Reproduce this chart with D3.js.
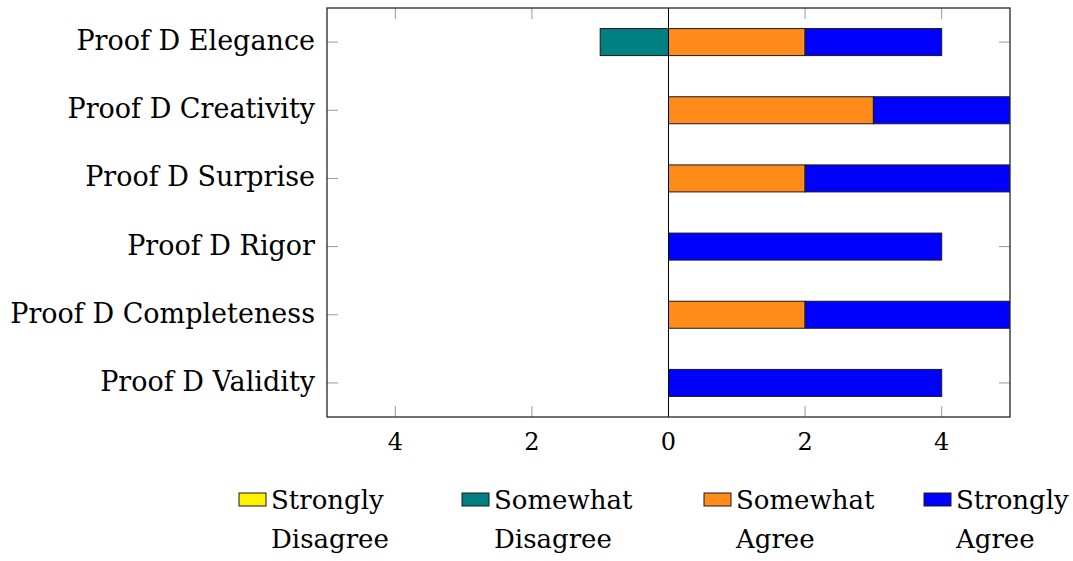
<!DOCTYPE html>
<html>
<head>
<meta charset="utf-8">
<script src="https://cdn.jsdelivr.net/npm/d3@7"></script>
<style>
  html, body { margin: 0; padding: 0; background: #fff; }
  svg text { font-family: "DejaVu Serif", serif; fill: #000; }
</style>
</head>
<body>
<div id="chart"></div>
<script>
// Datos (de arriba hacia abajo)
const categories = ['Proof D Elegance', 'Proof D Creativity', 'Proof D Surprise',
                    'Proof D Rigor', 'Proof D Completeness', 'Proof D Validity'];
const stronglyDisagree = [0, 0, 0, 0, 0, 0];
const somewhatDisagree = [1, 0, 0, 0, 0, 0];
const somewhatAgree    = [2, 3, 2, 0, 2, 0];
const stronglyAgree    = [2, 2, 3, 4, 3, 4];
const xTicks = [-4, -2, 0, 2, 4];
const legendLabels = [['Strongly', 'Disagree'], ['Somewhat', 'Disagree'],
                      ['Somewhat', 'Agree'], ['Strongly', 'Agree']];

const drawChart = () => {
    const width = 1073, height = 561;
    const plot = { left: 327, right: 1010, top: 8, bottom: 417 };

    const colors = {
        sD: '#fff200', swD: '#008080', swA: '#ff8c1a', sA: '#0000ff'
    };

    const svg = d3.select('#chart')
                  .append('svg')
                  .attr('width', width)
                  .attr('height', height);

    const x = d3.scaleLinear().domain([-5, 5]).range([plot.left, plot.right]);
    const y = d3.scaleBand().domain(categories).range([plot.top, plot.bottom]).padding(0);
    const barH = 27;

    // Tabla para d3.stack (los "disagree" en negativo)
    const table = categories.map((c, i) => ({
        cat: c,
        swD: -somewhatDisagree[i],
        sD: -stronglyDisagree[i],
        swA: somewhatAgree[i],
        sA: stronglyAgree[i]
    }));
    const series = d3.stack()
                     .keys(['swD', 'sD', 'swA', 'sA'])
                     .offset(d3.stackOffsetDiverging)(table);

    svg.append('clipPath').attr('id', 'clip')
       .append('rect')
       .attr('x', plot.left).attr('y', plot.top)
       .attr('width', plot.right - plot.left)
       .attr('height', plot.bottom - plot.top);

    // Ticks (hacia dentro, grises)
    const ticks = svg.append('g').attr('stroke', '#9a9a9a').attr('stroke-width', 1);
    xTicks.forEach(t => {
        ticks.append('line').attr('x1', x(t)).attr('x2', x(t))
             .attr('y1', plot.bottom).attr('y2', plot.bottom - 11);
        ticks.append('line').attr('x1', x(t)).attr('x2', x(t))
             .attr('y1', plot.top).attr('y2', plot.top + 11);
    });
    categories.forEach(c => {
        const cy = y(c) + y.bandwidth() / 2;
        ticks.append('line').attr('x1', plot.left).attr('x2', plot.left + 11)
             .attr('y1', cy).attr('y2', cy);
        ticks.append('line').attr('x1', plot.right).attr('x2', plot.right - 11)
             .attr('y1', cy).attr('y2', cy);
    });

    // Barras
    const bars = svg.append('g').attr('clip-path', 'url(#clip)');
    series.forEach(s => {
        bars.selectAll(null)
            .data(s.filter(d => d[1] - d[0] !== 0))
            .enter()
            .append('rect')
            .attr('x', d => x(Math.min(d[0], d[1])))
            .attr('y', d => y(d.data.cat) + (y.bandwidth() - barH) / 2)
            .attr('width', d => Math.abs(x(d[1]) - x(d[0])))
            .attr('height', barH)
            .attr('fill', colors[s.key])
            .attr('stroke', '#1a1a1a')
            .attr('stroke-width', 1);
    });

    // Linea del cero
    svg.append('line')
       .attr('x1', x(0)).attr('x2', x(0))
       .attr('y1', plot.top).attr('y2', plot.bottom)
       .attr('stroke', '#000').attr('stroke-width', 1);

    // Marco
    svg.append('rect')
       .attr('x', plot.left).attr('y', plot.top)
       .attr('width', plot.right - plot.left)
       .attr('height', plot.bottom - plot.top)
       .attr('fill', 'none')
       .attr('stroke', '#262626')
       .attr('stroke-width', 1.3);

    // Etiquetas eje x (valor absoluto)
    svg.append('g').selectAll('text')
       .data(xTicks).enter()
       .append('text')
       .attr('x', d => x(d))
       .attr('y', plot.bottom + 33)
       .attr('text-anchor', 'middle')
       .style('font-size', '24px')
       .text(d => Math.abs(d));

    // Etiquetas eje y
    svg.append('g').selectAll('text')
       .data(categories).enter()
       .append('text')
       .attr('x', plot.left - 12)
       .attr('y', d => y(d) + y.bandwidth() / 2 + 8)
       .attr('text-anchor', 'end')
       .style('font-size', '27px')
       .text(d => d);

    // Leyenda
    const legendX = [239, 462, 704, 924];
    const legendColors = [colors.sD, colors.swD, colors.swA, colors.sA];
    const legend = svg.append('g').selectAll('g')
                      .data(legendLabels).enter()
                      .append('g')
                      .attr('transform', (d, i) => `translate(${legendX[i]}, 493)`);
    legend.append('rect')
          .attr('width', 27).attr('height', 13)
          .attr('fill', (d, i) => legendColors[i])
          .attr('stroke', '#1a1a1a').attr('stroke-width', 1);
    legend.append('text')
          .attr('x', 32).attr('y', 16)
          .style('font-size', '26px')
          .text(d => d[0]);
    legend.append('text')
          .attr('x', 32).attr('y', 55)
          .style('font-size', '26px')
          .text(d => d[1]);
};

drawChart();
</script>
</body>
</html>
